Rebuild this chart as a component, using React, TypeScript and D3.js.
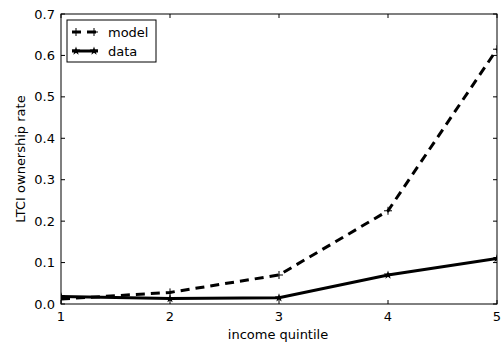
import React from "react";
import * as d3 from "d3";

const quintiles = [1, 2, 3, 4, 5];
const modelValues = [0.012, 0.028, 0.07, 0.225, 0.615];
const dataValues = [0.018, 0.013, 0.015, 0.07, 0.11];
const yTicks = [0, 0.1, 0.2, 0.3, 0.4, 0.5, 0.6, 0.7];
const xTicks = [1, 2, 3, 4, 5];

const W = 503, H = 349;
const L = 61, R = 497, T = 14, B = 304;

function starPath(cx: number, cy: number, ro: number, ri: number) {
  const pts: string[] = [];
  for (let i = 0; i < 10; i++) {
    const a = -Math.PI / 2 + (i * Math.PI) / 5;
    const r = i % 2 === 0 ? ro : ri;
    pts.push(`${cx + r * Math.cos(a)},${cy + r * Math.sin(a)}`);
  }
  return "M" + pts.join("L") + "Z";
}

export default function App() {
  const x = d3.scaleLinear().domain([1, 5]).range([L, R]);
  const y = d3.scaleLinear().domain([0, 0.7]).range([B, T]);
  const line = d3.line<number>().x((_, i) => x(quintiles[i])).y((d) => y(d));
  const font = "DejaVu Sans, sans-serif";
  const fs = 13;
  return (
    <svg width={W} height={H} style={{ position: "absolute", left: 0, top: 0 }} fontFamily={font}>
      <rect x={0} y={0} width={W} height={H} fill="white" />
      <defs>
        <clipPath id="clip"><rect x={L} y={T} width={R - L} height={B - T} /></clipPath>
      </defs>
      <g clipPath="url(#clip)">
        <path d={line(modelValues) || ""} fill="none" stroke="black" strokeWidth={3} strokeDasharray="9,6" />
        <path d={line(dataValues) || ""} fill="none" stroke="black" strokeWidth={3} />
        {modelValues.map((v, i) => (
          <g key={"m" + i} stroke="black" strokeWidth={1}>
            <line x1={x(quintiles[i]) - 4} x2={x(quintiles[i]) + 4} y1={y(v)} y2={y(v)} />
            <line x1={x(quintiles[i])} x2={x(quintiles[i])} y1={y(v) - 4} y2={y(v) + 4} />
          </g>
        ))}
        {dataValues.map((v, i) => (
          <path key={"d" + i} d={starPath(x(quintiles[i]), y(v), 4.5, 1.8)} fill="black" />
        ))}
      </g>
      <rect x={L} y={T} width={R - L} height={B - T} fill="none" stroke="black" strokeWidth={1} />
      {yTicks.map((t) => (
        <g key={"y" + t}>
          <line x1={L} x2={L + 4} y1={y(t)} y2={y(t)} stroke="black" />
          <line x1={R} x2={R - 4} y1={y(t)} y2={y(t)} stroke="black" />
          <text x={L - 6} y={y(t)} dy="0.35em" textAnchor="end" fontSize={fs}>{t.toFixed(1)}</text>
        </g>
      ))}
      {xTicks.map((t) => (
        <g key={"x" + t}>
          <line x1={x(t)} x2={x(t)} y1={B} y2={B - 4} stroke="black" />
          <line x1={x(t)} x2={x(t)} y1={T} y2={T + 4} stroke="black" />
          <text x={x(t)} y={B + 17} textAnchor="middle" fontSize={fs}>{t}</text>
        </g>
      ))}
      <text x={278} y={339} textAnchor="middle" fontSize={fs}>income quintile</text>
      <text transform={`translate(25,159) rotate(-90)`} textAnchor="middle" fontSize={fs}>LTCI ownership rate</text>
      <g>
        <rect x={67} y={20} width={89} height={42} fill="white" stroke="black" strokeWidth={1} />
        <line x1={72} x2={98} y1={32} y2={32} stroke="black" strokeWidth={3} strokeDasharray="9,6" />
        <line x1={72} x2={80} y1={32} y2={32} stroke="black" strokeWidth={1} />
        <line x1={76} x2={76} y1={28} y2={36} stroke="black" strokeWidth={1} />
        <line x1={90} x2={98} y1={32} y2={32} stroke="black" strokeWidth={1} />
        <line x1={94} x2={94} y1={28} y2={36} stroke="black" strokeWidth={1} />
        <text x={108} y={32} dy="0.35em" fontSize={fs}>model</text>
        <line x1={72} x2={98} y1={51} y2={51} stroke="black" strokeWidth={3} />
        <path d={starPath(76, 51, 4.5, 1.8)} fill="black" />
        <path d={starPath(94, 51, 4.5, 1.8)} fill="black" />
        <text x={108} y={51} dy="0.35em" fontSize={fs}>data</text>
      </g>
    </svg>
  );
}
